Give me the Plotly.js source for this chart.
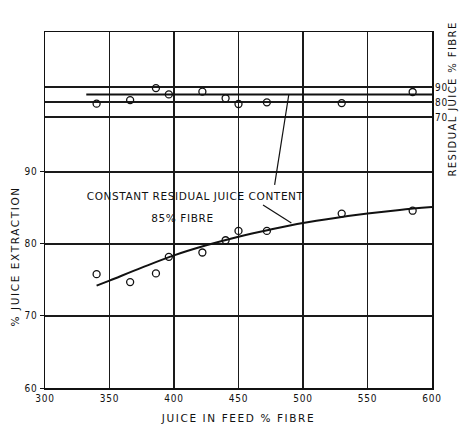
<!DOCTYPE html>
<html>
<head>
<meta charset="utf-8">
<script src="https://cdn.plot.ly/plotly-3.0.1.min.js"></script>
<style>
html,body{margin:0;padding:0;background:#fff;}
#chart{width:459px;height:427px;}
#chart .annotation[data-index="0"] text,
#chart .annotation[data-index="1"] text{letter-spacing:0.6px;}
#chart .annotation[data-index="2"] text{letter-spacing:1.6px;}
#chart .annotation[data-index="3"] text{letter-spacing:1.4px;}
#chart text.xtitle{letter-spacing:1.6px;}
#chart .xtick text,#chart .ytick text,#chart .y2tick text{letter-spacing:0.8px;}
</style>
</head>
<body>
<div id="chart"></div>
<script>
// Juice in feed % fibre for each test
var juiceInFeed = [340, 366, 386, 396, 422, 440, 450, 472, 530, 585];
// % juice extraction (lower set of points)
var extraction = [75.8, 74.7, 75.9, 78.2, 78.8, 80.5, 81.8, 81.8, 84.2, 84.6];
// residual juice % fibre (upper set of points)
var residual = [78.9, 81.3, 89.3, 85.1, 86.9, 82.5, 78.7, 79.8, 79.3, 86.7];
// fitted curve for extraction at constant residual juice content
var curveX = [340, 350, 375, 400, 425, 450, 475, 500, 525, 550, 575, 600];
var curveY = [74.2, 74.9, 76.7, 78.4, 79.8, 81.0, 82.0, 82.9, 83.6, 84.2, 84.7, 85.1];
// constant residual juice line
var constX = [332, 600];
var constY = [85, 85];
var xTicks = [300, 350, 400, 450, 500, 550, 600];
var yTicks = [60, 70, 80, 90];
var y2Ticks = [70, 80, 90];

var FONT = "DejaVu Sans, sans-serif";
var TFONT = "DejaVu Sans Condensed, DejaVu Sans, sans-serif";
var INK = "#111";
var GRID = "#1a1a1a";

var traces = [
  {x: curveX, y: curveY, mode: "lines", line: {color: INK, width: 2, shape: "spline"}, hoverinfo: "skip"},
  {x: juiceInFeed, y: extraction, mode: "markers",
   marker: {symbol: "circle-open", size: 7, color: INK, line: {width: 1.3, color: INK}}},
  {x: constX, y: constY, yaxis: "y2", mode: "lines", line: {color: INK, width: 2}},
  {x: juiceInFeed, y: residual, yaxis: "y2", mode: "markers",
   marker: {symbol: "circle-open", size: 7, color: INK, line: {width: 1.3, color: INK}}}
];

var layout = {
  width: 459, height: 427,
  margin: {l: 45, r: 27, t: 32, b: 39},
  paper_bgcolor: "#fff", plot_bgcolor: "#fff",
  showlegend: false,
  font: {family: FONT, size: 10, color: INK},
  xaxis: {
    range: [300, 600], tickvals: xTicks, ticktext: xTicks.map(String),
    showgrid: true, gridcolor: GRID, gridwidth: 1.4,
    showline: true, linecolor: INK, linewidth: 1.5, mirror: true,
    ticks: "", zeroline: false,
    tickfont: {family: TFONT, size: 10, color: INK},
    title: {text: "JUICE IN FEED % FIBRE", font: {family: FONT, size: 10.5, color: INK}, standoff: 12}
  },
  yaxis: {
    range: [60, 109.4], tickvals: yTicks, ticktext: yTicks.map(String),
    showgrid: true, gridcolor: GRID, gridwidth: 1.4,
    showline: true, linecolor: INK, linewidth: 1.5, mirror: true,
    ticks: "outside", ticklen: 4, tickcolor: INK, zeroline: false,
    tickfont: {family: TFONT, size: 10, color: INK}
  },
  yaxis2: {
    overlaying: "y", side: "right",
    range: [-110.7, 126.7], tickvals: y2Ticks, ticktext: y2Ticks.map(String),
    showgrid: true, gridcolor: GRID, gridwidth: 1.4,
    showline: false, ticks: "", zeroline: false, ticklabelstandoff: 2,
    tickfont: {family: TFONT, size: 10, color: INK}
  },
  shapes: [
    {type: "line", xref: "x", yref: "y2", x0: 489, y0: 85, x1: 478, y1: 24.7, line: {color: INK, width: 1.2}},
    {type: "line", xref: "x", yref: "y", x0: 469, y0: 85.4, x1: 491, y1: 82.9, line: {color: INK, width: 1.2}}
  ],
  annotations: [
    {xref: "x", yref: "y", x: 417, y: 86.7, text: "CONSTANT RESIDUAL JUICE CONTENT", showarrow: false,
     font: {family: FONT, size: 10.5, color: INK}},
    {xref: "x", yref: "y", x: 406.5, y: 83.6, text: "85% FIBRE", showarrow: false,
     font: {family: FONT, size: 10.5, color: INK}},
    {xref: "paper", yref: "paper", x: -0.078, y: 0.37, xanchor: "center", yanchor: "middle",
     text: "% JUICE EXTRACTION", textangle: -90, showarrow: false,
     font: {family: FONT, size: 10.5, color: INK}},
    {xref: "paper", yref: "paper", x: 1.053, y: 0.81, xanchor: "center", yanchor: "middle",
     text: "RESIDUAL JUICE % FIBRE", textangle: -90, showarrow: false,
     font: {family: FONT, size: 10, color: INK}}
  ]
};

Plotly.newPlot("chart", traces, layout, {staticPlot: true, displayModeBar: false});
</script>
</body>
</html>
